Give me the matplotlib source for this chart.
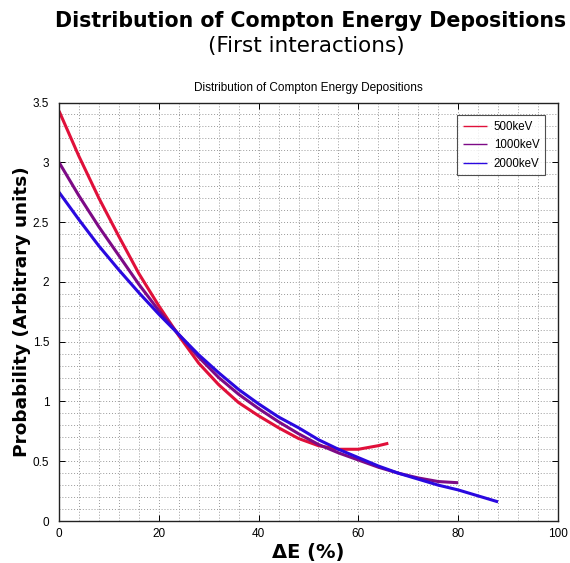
import matplotlib.pyplot as plt
from matplotlib.ticker import MultipleLocator, FormatStrFormatter

# Energy deposited (% of incident energy) and relative probability per source energy
x_500 = [0, 4, 8, 12, 16, 20, 24, 28, 32, 36, 40, 44, 48, 52, 56, 60, 64, 66]
p_500 = [3.43, 3.05, 2.70, 2.38, 2.07, 1.80, 1.55, 1.32, 1.14, 0.99, 0.88,
         0.78, 0.69, 0.63, 0.60, 0.60, 0.63, 0.65]

x_1000 = [0, 4, 8, 12, 16, 20, 24, 28, 32, 36, 40, 44, 48, 52, 56, 60, 64,
          68, 72, 76, 80]
p_1000 = [3.00, 2.72, 2.46, 2.22, 1.98, 1.76, 1.56, 1.37, 1.20, 1.06, 0.94,
          0.83, 0.73, 0.64, 0.57, 0.51, 0.45, 0.40, 0.36, 0.33, 0.32]

x_2000 = [0, 4, 8, 12, 16, 20, 24, 28, 32, 36, 40, 44, 48, 52, 56, 60, 64,
          68, 72, 76, 80, 84, 88]
p_2000 = [2.75, 2.52, 2.30, 2.10, 1.91, 1.73, 1.56, 1.39, 1.24, 1.10, 0.98,
          0.87, 0.78, 0.68, 0.60, 0.53, 0.46, 0.40, 0.35, 0.30, 0.26, 0.21, 0.16]

labels = ["500keV", "1000keV", "2000keV"]
colors = ["#e0103a", "#7d0a86", "#2a08e0"]

fig = plt.figure(figsize=(5.70, 5.63), dpi=100)
ax = fig.add_axes([0.1035, 0.0746, 0.8754, 0.7433])

series = [(x_500, p_500), (x_1000, p_1000), (x_2000, p_2000)]
for (xs, ps), lab, col in zip(series, labels, colors):
    ax.plot(xs, ps, color=col, lw=2.2, label=lab, solid_capstyle="butt")

ax.set_xlim(0, 100)
ax.set_ylim(0, 3.5)
ax.xaxis.set_major_locator(MultipleLocator(20))
ax.xaxis.set_minor_locator(MultipleLocator(4))
ax.yaxis.set_major_locator(MultipleLocator(0.5))
ax.yaxis.set_minor_locator(MultipleLocator(0.1))
ax.yaxis.set_major_formatter(FormatStrFormatter("%g"))
ax.grid(which="both", color="#999999", linestyle=(0, (1, 2)), linewidth=0.7)
ax.tick_params(which="both", direction="in", top=True, right=True,
               labelsize=8.5, length=4, width=0.7)
ax.tick_params(axis="y", pad=7)
ax.tick_params(axis="x", pad=5)
ax.tick_params(which="minor", length=0)
for lbl in ax.get_xticklabels() + ax.get_yticklabels():
    lbl.set_family("Liberation Sans")
for sp in ax.spines.values():
    sp.set_linewidth(1.0)
    sp.set_color("#222222")

ax.set_title("Distribution of Compton Energy Depositions", fontsize=8.5,
             family="Liberation Sans", pad=8)
ax.set_xlabel("ΔE (%)", fontsize=14, fontweight="bold", labelpad=2)
ax.set_ylabel("Probability (Arbitrary units)", fontsize=13.3,
              fontweight="bold", labelpad=1)

leg = ax.legend(loc="upper right", frameon=True, fancybox=False,
                edgecolor="#222222", borderaxespad=1.1, handlelength=2.1,
                labelspacing=0.55, borderpad=0.5, handletextpad=0.6,
                prop={"family": "Liberation Sans", "size": 8.3})
for line in leg.get_lines():
    line.set_linewidth(1.0)
leg.get_frame().set_linewidth(0.8)

fig.text(0.545, 0.962, "Distribution of Compton Energy Depositions",
         ha="center", va="center", fontsize=14.8, fontweight="bold")
fig.text(0.537, 0.918, "(First interactions)", ha="center", va="center",
         fontsize=15.5)

fig.savefig("out.png", dpi=100)
